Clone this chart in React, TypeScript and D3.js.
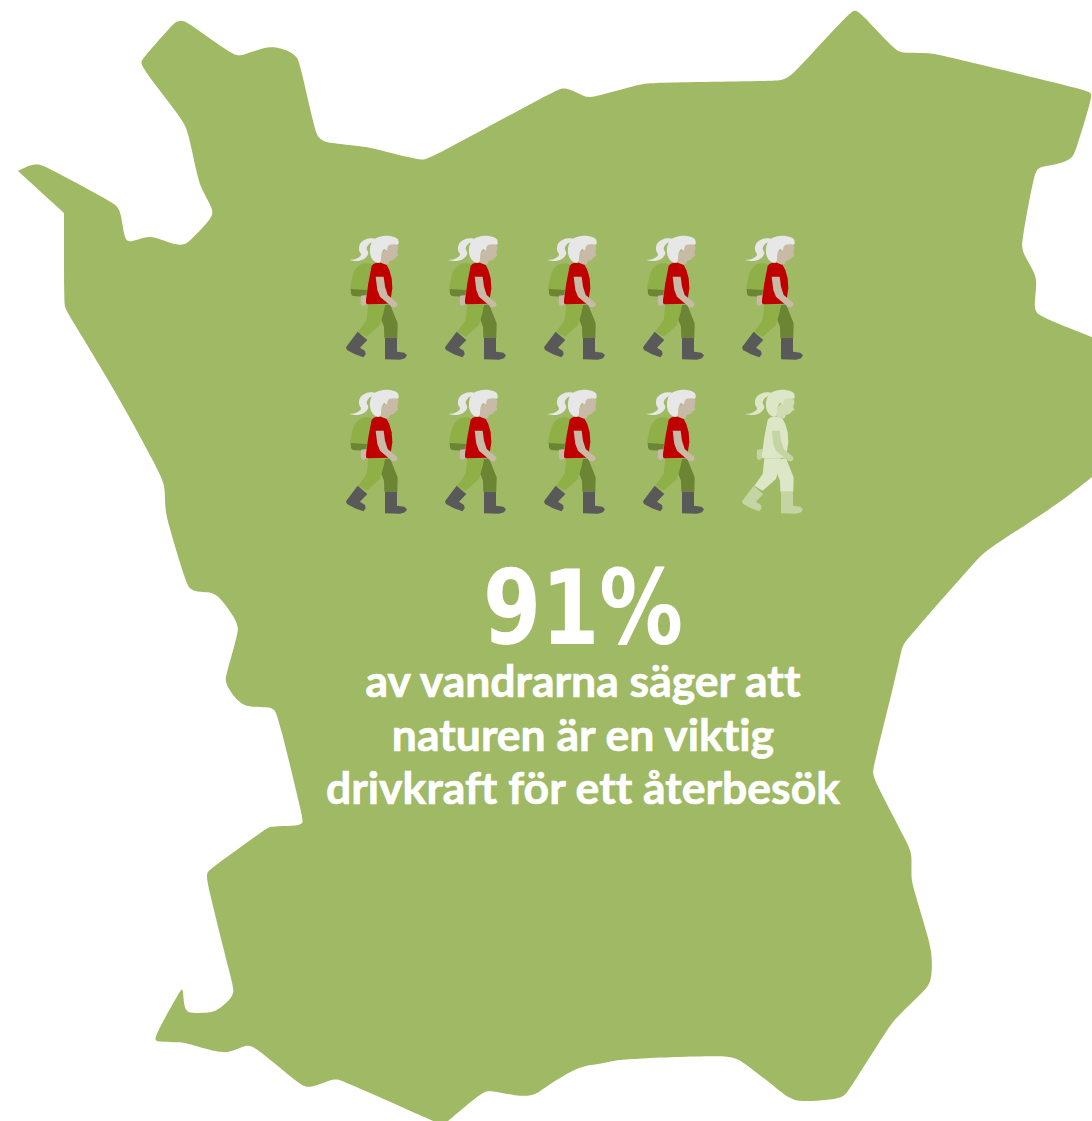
import React from 'react';
import * as d3 from 'd3';

type Pt = [number, number];

const width = 1092;
const height = 1121;

// the region outline, traced clockwise from the western tip
const regionOutline: Pt[] = [
  [18,171],[30,165],[38,164],[45,166],[110,201],[117,206],[121,213],[124,236],[127,241],[131,242],
  [145,237],[152,237],[160,239],[176,245],[184,245],[190,241],[211,219],[213,212],[211,206],[201,188],
  [197,175],[188,131],[183,120],[142,68],[141,62],[143,58],[173,24],[177,21],[184,21],[187,22],
  [230,53],[238,56],[243,55],[263,48],[272,47],[280,48],[291,52],[297,57],[300,64],[315,131],
  [318,137],[323,141],[330,143],[366,147],[372,148],[415,159],[423,160],[431,158],[556,90],[563,88],
  [570,89],[585,97],[591,98],[640,84],[650,83],[700,82],[775,81],[783,80],[790,76],[797,70],
  [850,12],[855,10],[860,12],[893,48],[900,52],[906,53],[930,53],[940,55],[1087,90],[1091,93],
  [1092,98],[1075,153],[1072,158],[1060,164],[1045,166],[1038,168],[1034,174],[1022,240],[1022,248],[1024,255],
  [1035,273],[1037,283],[1034,306],[1036,312],[1041,317],[1092,337],[1092,477],[1060,503],[988,549],[980,556],
  [909,637],[903,645],[901,652],[895,680],[873,768],[873,773],[875,782],[909,846],[912,855],[911,877],
  [913,887],[930,943],[932,957],[932,982],[923,992],[897,1017],[890,1025],[848,1092],[843,1097],[830,1100],
  [798,1102],[790,1098],[782,1093],[740,1059],[728,1055],[623,1059],[612,1061],[600,1064],[587,1065],[573,1070],
  [553,1082],[538,1093],[530,1096],[517,1096],[492,1091],[487,1091],[480,1094],[448,1121],[433,1121],[343,1081],
  [337,1079],[330,1080],[313,1087],[307,1087],[300,1085],[257,1048],[248,1045],[242,1047],[230,1052],[220,1053],
  [190,1044],[180,1042],[156,1042],[153,1039],[181,989],[183,988],[184,1007],[187,1011],[190,1013],[210,1013],
  [218,1010],[230,1000],[234,992],[233,985],[206,880],[207,873],[210,869],[262,832],[268,827],[277,826],
  [298,826],[303,823],[303,819],[278,715],[274,709],[268,707],[249,707],[242,704],[235,698],[228,688],
  [225,680],[227,672],[238,633],[238,627],[235,618],[221,599],[215,594],[208,592],[197,592],[190,589],
  [186,583],[167,520],[165,507],[165,490],[163,482],[160,473],[115,390],[68,314],[65,307],[64,300],
  [64,213],
];

// vertices that stay sharp when the outline gets smoothed
const sharpVertices = ['18,171', '64,213', '1092,337', '1092,477', '448,1121', '433,1121'];

const share = 91;
const iconCount = 10;
const rows = [0, 1];
const columns = [0, 1, 2, 3, 4];
const headline = `${share}%`;
const caption = ['av vandrarna säger att', 'naturen är en viktig', 'drivkraft för ett återbesök'];

// hiker drawn at 3x, split into coloured parts
const tail: Pt[] = [[120,42],[95,42],[76,55],[72,75],[78,90],[62,102],[44,105],[70,108],[90,100],[100,85],[95,70],[105,55],[120,48]];
const hair: Pt[] = [[105,70],[115,45],[135,35],[165,33],[188,42],[190,58],[175,58],[160,62],[155,76],[148,72],[140,85],[135,112],[120,110],[108,95]];
const face: Pt[] = [[150,75],[160,60],[180,57],[190,65],[187,85],[190,92],[185,95],[175,105],[165,108],[160,118],[140,114],[135,105],[140,85]];
const pack: Pt[] = [[48,195],[49,170],[60,135],[80,117],[100,115],[110,120],[95,200]];
const packBase: Pt[] = [[47,192],[96,195],[93,215],[60,214],[52,212],[48,206]];
const backArm: Pt[] = [[78,212],[95,210],[95,238],[85,243],[79,240],[77,232]];
const shirt: Pt[] = [[110,122],[116,116],[125,113],[145,113],[155,120],[163,135],[170,160],[172,190],[165,236],[98,238],[93,235],[93,225],[100,175]];
const frontArm: Pt[] = [[122,155],[146,155],[150,185],[158,210],[186,233],[188,240],[182,247],[172,247],[135,215],[127,195]];
const frontLeg: Pt[] = [[100,238],[150,238],[146,262],[135,300],[95,335],[70,320],[95,285]];
const rearLeg: Pt[] = [[150,240],[165,238],[188,295],[187,338],[148,338],[147,305],[137,280]];
const rearBoot: Pt[] = [[68,320],[97,345],[75,368],[90,378],[92,388],[85,397],[60,388],[36,375],[33,367]];
const frontBoot: Pt[] = [[150,338],[186,338],[186,380],[208,383],[216,391],[210,400],[195,404],[150,403]];

const hikerParts: { pts: Pt[]; fill: string; faded: string | null; smooth?: boolean }[] = [
  { pts: pack, fill: '#8eb046', faded: null, smooth: true },
  { pts: packBase, fill: '#6b8535', faded: null },
  { pts: backArm, fill: '#c7baa6', faded: '#c4d4a2' },
  { pts: rearLeg, fill: '#6b8535', faded: '#dde6c6' },
  { pts: frontLeg, fill: '#8eb046', faded: '#dde6c6' },
  { pts: rearBoot, fill: '#595959', faded: '#c4d4a2' },
  { pts: frontBoot, fill: '#595959', faded: '#c4d4a2' },
  { pts: shirt, fill: '#c00000', faded: '#dde6c6' },
  { pts: frontArm, fill: '#c7baa6', faded: '#c4d4a2' },
  { pts: face, fill: '#c7baa6', faded: '#d0ddb4', smooth: true },
  { pts: tail, fill: '#e7e7e7', faded: '#dde6c6', smooth: true },
  { pts: hair, fill: '#e7e7e7', faded: '#dde6c6', smooth: true },
];

const xCol = d3.scalePoint<number>().domain(columns).range([335, 731]);
const yRow = d3.scalePoint<number>().domain(rows).range([225, 379]);

const outlinePath = d3.line().curve(d3.curveBasisClosed);
const straightPath = d3.line().curve(d3.curveLinearClosed);
const smoothPath = d3.line().curve(d3.curveCatmullRomClosed.alpha(0.5));

// a basis curve passes through a vertex only if that vertex is repeated
const outlinePoints = regionOutline.flatMap((p) =>
  sharpVertices.includes(p.join(',')) ? [p, p, p] : [p]
);

function Hiker({ x, y, faded }: { x: number; y: number; faded: boolean }) {
  return (
    <g transform={`translate(${x},${y}) scale(${1 / 3})`}>
      {hikerParts.map((p, i) => {
        const fill = faded ? p.faded : p.fill;
        if (!fill) return null;
        const gen = p.smooth ? smoothPath : straightPath;
        return <path key={i} d={gen(p.pts) || ''} fill={fill} />;
      })}
    </g>
  );
}

export default function App() {
  const filled = Math.floor(share / iconCount);
  return (
    <svg
      width={width}
      height={height}
      viewBox={`0 0 ${width} ${height}`}
      style={{ position: 'absolute', left: 0, top: 0, display: 'block' }}
    >
      <rect width={width} height={height} fill="#fff" />
      <path d={outlinePath(outlinePoints) || ''} fill="#a0b964" />
      {rows.map((r) =>
        columns.map((c) => {
          const idx = r * columns.length + c;
          return <Hiker key={idx} x={xCol(c)!} y={yRow(r)!} faded={idx >= filled} />;
        })
      )}
      <text
        x={583}
        y={644}
        textAnchor="middle"
        fontFamily="'DejaVu Sans', sans-serif"
        fontWeight={700}
        fontSize={103}
        textLength={200}
        lengthAdjust="spacingAndGlyphs"
        fill="#fff"
      >
        {headline}
      </text>
      {caption.map((line, i) => (
        <text
          key={i}
          x={583}
          y={697 + i * 53.5}
          textAnchor="middle"
          fontFamily="Lato, sans-serif"
          fontWeight={700}
          fontSize={44.5}
          stroke="#fff"
          strokeWidth={0.7}
          fill="#fff"
          style={{ fontVariantLigatures: 'none' }}
        >
          {line}
        </text>
      ))}
    </svg>
  );
}
